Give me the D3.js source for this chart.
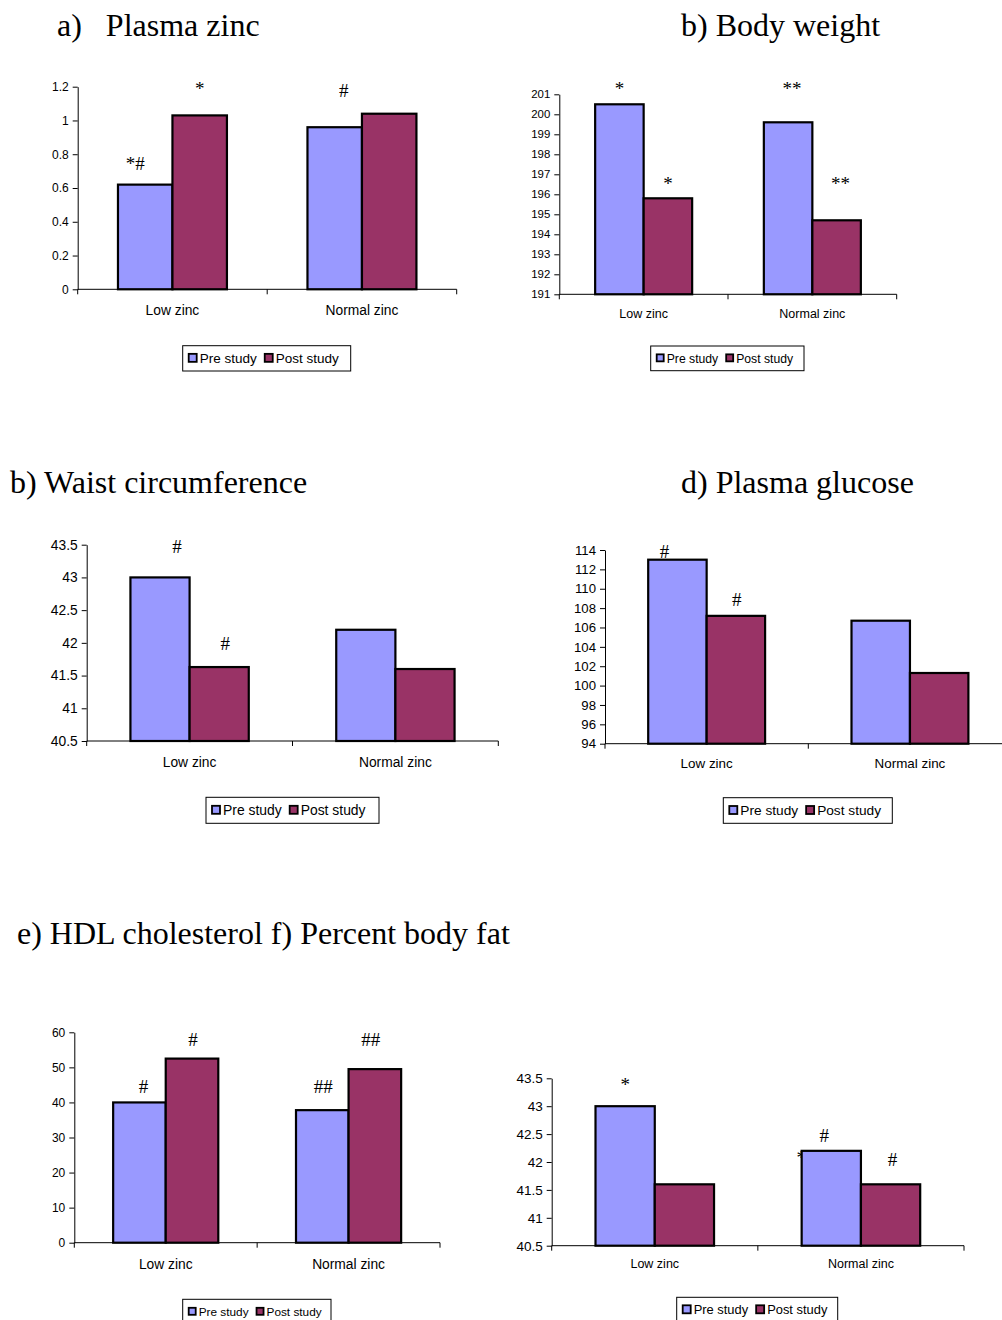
<!DOCTYPE html>
<html>
<head>
<meta charset="utf-8">
<script src="https://cdn.jsdelivr.net/npm/d3@7"></script>
<style>
  html, body { margin: 0; padding: 0; background: #fff; }
  svg { display: block; }
</style>
</head>
<body>
<svg id="chart" width="1002" height="1320"></svg>
<script>
// ---------------- data ----------------
const categories = ["Low zinc", "Normal zinc"];
const seriesNames = ["Pre study", "Post study"];
const seriesColors = ["#9999FF", "#993366"];

const zincPre = [0.62, 0.96];
const zincPost = [1.03, 1.04];
const zincTicks = [0, 0.2, 0.4, 0.6, 0.8, 1, 1.2];

const weightPre = [200.5, 199.6];
const weightPost = [195.8, 194.7];
const weightTicks = [191, 192, 193, 194, 195, 196, 197, 198, 199, 200, 201];

const waistPre = [43.0, 42.2];
const waistPost = [41.63, 41.6];
const waistTicks = [40.5, 41, 41.5, 42, 42.5, 43, 43.5];

const glucosePre = [113.0, 106.7];
const glucosePost = [107.2, 101.3];
const glucoseTicks = [94, 96, 98, 100, 102, 104, 106, 108, 110, 112, 114];

const hdlPre = [40.0, 37.8];
const hdlPost = [52.5, 49.5];
const hdlTicks = [0, 10, 20, 30, 40, 50, 60];

const fatPre = [43.0, 42.2];
const fatPost = [41.6, 41.6];
const fatTicks = [40.5, 41, 41.5, 42, 42.5, 43, 43.5];

// significance marks: text, category index, series index, value (y position), pixel nudge
const zincNotes = [
  {t: "*#", c: 0, s: 0, v: 0.707, dx: -10},
  {t: "*", c: 0, s: 1, v: 1.151, dx: 0},
  {t: "#", c: 1, s: 0, v: 1.139, dx: 9}
];
const weightNotes = [
  {t: "*", c: 0, s: 0, v: 200.97, dx: 0},
  {t: "*", c: 0, s: 1, v: 196.2, dx: 0},
  {t: "**", c: 1, s: 0, v: 200.97, dx: 4},
  {t: "**", c: 1, s: 1, v: 196.2, dx: 4}
];
const waistNotes = [
  {t: "#", c: 0, s: 0, v: 43.37, dx: 17},
  {t: "#", c: 0, s: 1, v: 41.89, dx: 6}
];
const glucoseNotes = [
  {t: "#", c: 0, s: 0, v: 113.18, dx: -13},
  {t: "#", c: 0, s: 1, v: 108.22, dx: 1}
];
const hdlNotes = [
  {t: "#", c: 0, s: 0, v: 42.7, dx: 4},
  {t: "#", c: 0, s: 1, v: 56.1, dx: 1},
  {t: "##", c: 1, s: 0, v: 42.7, dx: 1},
  {t: "##", c: 1, s: 1, v: 56.1, dx: -4}
];
const fatNotes = [
  {t: "*", c: 0, s: 0, v: 43.27, dx: 0},
  {t: "*", c: 1, s: 0, v: 41.96, dx: -30, behind: true},
  {t: "#", c: 1, s: 0, v: 42.36, dx: -7},
  {t: "#", c: 1, s: 1, v: 41.93, dx: 2}
];

// ---------------- drawing ----------------
const svg = d3.select("#chart");
const SANS = "'Liberation Sans', Arial, sans-serif";
const SERIF = "'Liberation Serif', 'Times New Roman', serif";

function drawTitle(text, x, y) {
  svg.append("text").attr("x", x).attr("y", y)
    .attr("font-family", SERIF).attr("font-size", 32)
    .attr("fill", "#000").attr("xml:space", "preserve")
    .style("white-space", "pre")
    .text(text);
}

function panel(cfg) {
  const g = svg.append("g");
  const x = d3.scaleBand().domain(categories).range([cfg.x0, cfg.x1]).paddingInner(0).paddingOuter(0);
  const frac = 0.575;
  const xs = d3.scaleBand().domain(seriesNames).range([0, x.bandwidth() * frac]);
  const off = x.bandwidth() * (1 - frac) / 2;
  const y = d3.scaleLinear().domain(cfg.domain).range([cfg.yBot, cfg.yTop]);
  const series = [cfg.pre, cfg.post];

  const barX = (c, s) => x(categories[c]) + off + xs(seriesNames[s]);

  const noteG = (behind) => cfg.notes.filter(n => !!n.behind === behind);
  function drawNotes(list) {
    g.selectAll(null).data(list).enter().append("text")
      .attr("x", d => barX(d.c, d.s) + xs.bandwidth() / 2 + d.dx)
      .attr("y", d => y(d.v))
      .attr("text-anchor", "middle")
      .attr("font-family", SERIF).attr("font-size", cfg.noteFont || 19)
      .attr("fill", "#000")
      .text(d => d.t);
  }
  drawNotes(noteG(true));

  // bars
  const rows = [];
  categories.forEach((c, ci) => series.forEach((arr, si) => rows.push({ci, si, v: arr[ci]})));
  g.selectAll(null).data(rows).enter().append("rect")
    .attr("x", d => barX(d.ci, d.si))
    .attr("width", xs.bandwidth())
    .attr("y", d => y(d.v))
    .attr("height", d => y(cfg.domain[0]) - y(d.v))
    .attr("fill", d => seriesColors[d.si])
    .attr("stroke", "#000").attr("stroke-width", 2.2);

  // y axis
  const ya = g.append("g").attr("transform", `translate(${cfg.x0},0)`)
    .call(d3.axisLeft(y).tickValues(cfg.ticks).tickSize(5).tickSizeOuter(0).tickPadding(4)
      .tickFormat(d3.format(cfg.fmt || "")));
  ya.selectAll("text").attr("font-family", SANS).attr("font-size", cfg.tickFont).attr("fill", "#000");
  ya.selectAll("line,path").attr("stroke", "#000");

  // x axis
  const bounds = categories.map(c => x(c)).concat([cfg.x1]);
  const xa = g.append("g");
  xa.append("line").attr("x1", cfg.x0).attr("x2", cfg.x1).attr("y1", cfg.yBot).attr("y2", cfg.yBot).attr("stroke", "#000");
  xa.selectAll(null).data(bounds).enter().append("line")
    .attr("x1", d => d).attr("x2", d => d).attr("y1", cfg.yBot).attr("y2", cfg.yBot + 5).attr("stroke", "#000");
  xa.selectAll(null).data(categories).enter().append("text")
    .attr("x", d => x(d) + x.bandwidth() / 2)
    .attr("y", cfg.yBot + cfg.catDy)
    .attr("text-anchor", "middle")
    .attr("font-family", SANS).attr("font-size", cfg.catFont).attr("fill", "#000")
    .text(d => d);

  drawNotes(noteG(false));

  // legend
  const L = cfg.legend;
  const lg = g.append("g").attr("transform", `translate(${L.x},${L.y})`);
  const box = lg.append("rect").attr("x", 0).attr("y", 0).attr("height", L.h)
    .attr("fill", "#fff").attr("stroke", "#000").attr("stroke-width", 1);
  let cx = 6;
  const ms = Math.round(L.font * 0.6);
  seriesNames.forEach((name, i) => {
    lg.append("rect").attr("x", cx).attr("y", L.h / 2 - ms / 2 - 0.5).attr("width", ms).attr("height", ms)
      .attr("fill", seriesColors[i]).attr("stroke", "#000").attr("stroke-width", 1.8);
    cx += ms + 3;
    const t = lg.append("text").attr("x", cx).attr("y", L.h / 2 + L.font * 0.36)
      .attr("font-family", SANS).attr("font-size", L.font).attr("fill", "#000").text(name);
    cx += t.node().getComputedTextLength() + (i === 0 ? 8 : 6);
  });
  box.attr("width", L.w || cx);
}

// titles
drawTitle("a)   Plasma zinc", 57, 36);
drawTitle("b) Body weight", 681, 36);
drawTitle("b) Waist circumference", 10, 493);
drawTitle("d) Plasma glucose", 681, 493);
drawTitle("e) HDL cholesterol f) Percent body fat", 17, 944);

panel({x0: 77.7, x1: 456.7, yTop: 86.7, yBot: 289.3, domain: [0, 1.2], ticks: zincTicks,
  pre: zincPre, post: zincPost, tickFont: 12, catFont: 13.8, catDy: 26, notes: zincNotes,
  legend: {x: 182.7, y: 345.7, h: 25.3, font: 13.5, w: 168}});

panel({x0: 559.3, x1: 896.7, yTop: 94.3, yBot: 294.3, domain: [191, 201], ticks: weightTicks,
  pre: weightPre, post: weightPost, tickFont: 11.4, catFont: 12.5, catDy: 23.5, notes: weightNotes,
  legend: {x: 650.7, y: 346, h: 24.7, font: 12.2, w: 153.3}});

panel({x0: 86.7, x1: 498.3, yTop: 544.7, yBot: 741, domain: [40.5, 43.5], ticks: waistTicks,
  pre: waistPre, post: waistPost, tickFont: 13.8, catFont: 13.8, catDy: 26, notes: waistNotes,
  legend: {x: 206, y: 797.3, h: 26, font: 13.9, w: 173}});

panel({x0: 605, x1: 1011.6, yTop: 550, yBot: 743.7, domain: [94, 114], ticks: glucoseTicks,
  pre: glucosePre, post: glucosePost, tickFont: 13.2, catFont: 13.4, catDy: 24.5, notes: glucoseNotes,
  legend: {x: 723.3, y: 797.7, h: 25.6, font: 13.7, w: 169}});

panel({x0: 74.3, x1: 440, yTop: 1032.3, yBot: 1242.7, domain: [0, 60], ticks: hdlTicks,
  pre: hdlPre, post: hdlPost, tickFont: 12, catFont: 13.8, catDy: 26.5, notes: hdlNotes,
  legend: {x: 182.7, y: 1299.3, h: 25, font: 11.8, w: 148.3}});

panel({x0: 551.7, x1: 964, yTop: 1078.3, yBot: 1245.7, domain: [40.5, 43.5], ticks: fatTicks,
  pre: fatPre, post: fatPost, tickFont: 13.5, catFont: 12.5, catDy: 22.5, notes: fatNotes,
  legend: {x: 676.7, y: 1297.3, h: 25, font: 12.9, w: 161}});
</script>
</body>
</html>
